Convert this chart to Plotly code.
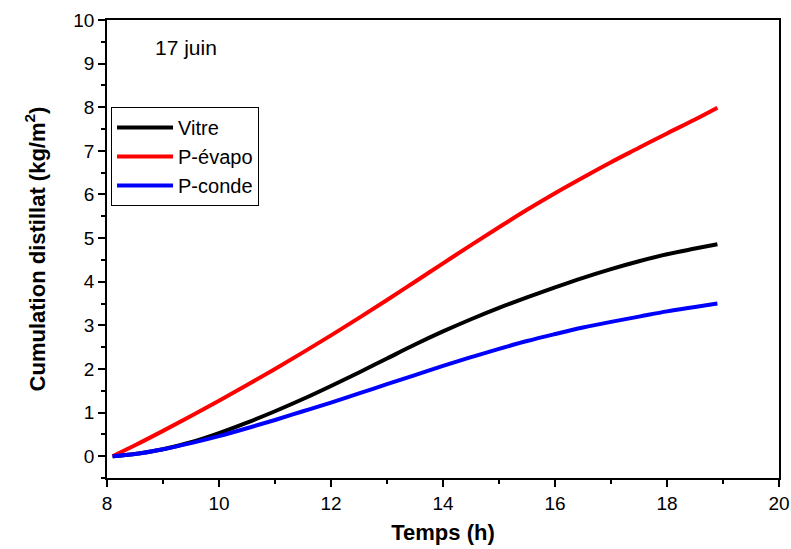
import plotly.graph_objects as go

temps = [8.1, 8.5, 9.0, 9.5, 10.0, 10.5, 11.0, 11.5, 12.0, 12.5, 13.0, 13.5, 14.0,
         14.5, 15.0, 15.5, 16.0, 16.5, 17.0, 17.5, 18.0, 18.5, 18.9]
vitre = [0.0, 0.05, 0.16, 0.32, 0.53, 0.77, 1.03, 1.31, 1.61, 1.92, 2.24, 2.56, 2.86,
         3.14, 3.40, 3.64, 3.87, 4.09, 4.29, 4.47, 4.63, 4.76, 4.86]
p_evapo = [0.0, 0.25, 0.58, 0.92, 1.27, 1.63, 2.0, 2.38, 2.77, 3.17, 3.58, 4.0, 4.42,
           4.84, 5.25, 5.65, 6.03, 6.39, 6.74, 7.07, 7.4, 7.72, 7.99]
p_conde = [0.0, 0.05, 0.16, 0.3, 0.46, 0.64, 0.83, 1.03, 1.23, 1.44, 1.65, 1.86, 2.07,
           2.27, 2.46, 2.64, 2.80, 2.95, 3.08, 3.20, 3.32, 3.42, 3.5]

series = [("Vitre", vitre, "black"), ("P-évapo", p_evapo, "red"), ("P-conde", p_conde, "blue")]

fig = go.Figure()
for name, vals, col in series:
    fig.add_trace(go.Scatter(x=temps, y=vals, mode="lines", name=name,
                             line=dict(color=col, width=4, shape="spline", smoothing=1)))

font = "Liberation Sans, Arial, sans-serif"
fig.update_layout(
    width=791, height=549,
    margin=dict(l=107, r=12, t=20, b=71),
    paper_bgcolor="white", plot_bgcolor="white",
    font=dict(family=font, color="black", size=18),
    showlegend=True,
    legend=dict(x=0.006, y=0.81, xanchor="left", yanchor="top",
                bordercolor="black", borderwidth=1, bgcolor="white",
                font=dict(size=20), tracegroupgap=0, itemwidth=56),
    annotations=[dict(text="17 juin", x=0.118, y=0.939, xref="paper", yref="paper",
                      showarrow=False, font=dict(size=21), xanchor="center", yanchor="middle")],
)
fig.update_xaxes(range=[8, 20], dtick=2, tick0=8, showgrid=False, zeroline=False, automargin=False,
                 showline=True, linecolor="black", linewidth=1.5, mirror=True,
                 ticks="outside", ticklen=7, tickwidth=1.5, tickcolor="black",
                 tickfont=dict(size=19, family=font),
                 minor=dict(dtick=1, ticks="outside", ticklen=4, tickwidth=1.5, tickcolor="black"),
                 title=dict(text="<b>Temps (h)</b>", font=dict(size=22, family=font), standoff=12))
fig.update_yaxes(range=[-0.5, 10], dtick=1, tick0=0, showgrid=False, zeroline=False, automargin=False,
                 showline=True, linecolor="black", linewidth=1.5, mirror=True,
                 ticks="outside", ticklen=7, tickwidth=1.5, tickcolor="black",
                 tickfont=dict(size=19, family=font),
                 minor=dict(dtick=0.5, tick0=0, ticks="outside", ticklen=4, tickwidth=1.5, tickcolor="black"),
                 title=dict(text="<b>Cumulation distillat (kg/m<sup>2</sup>)</b>", font=dict(size=22, family=font), standoff=22))

fig.write_html("out.html", config={"displayModeBar": False},
               post_script="document.body.style.margin='0';document.body.style.overflow='hidden';")
